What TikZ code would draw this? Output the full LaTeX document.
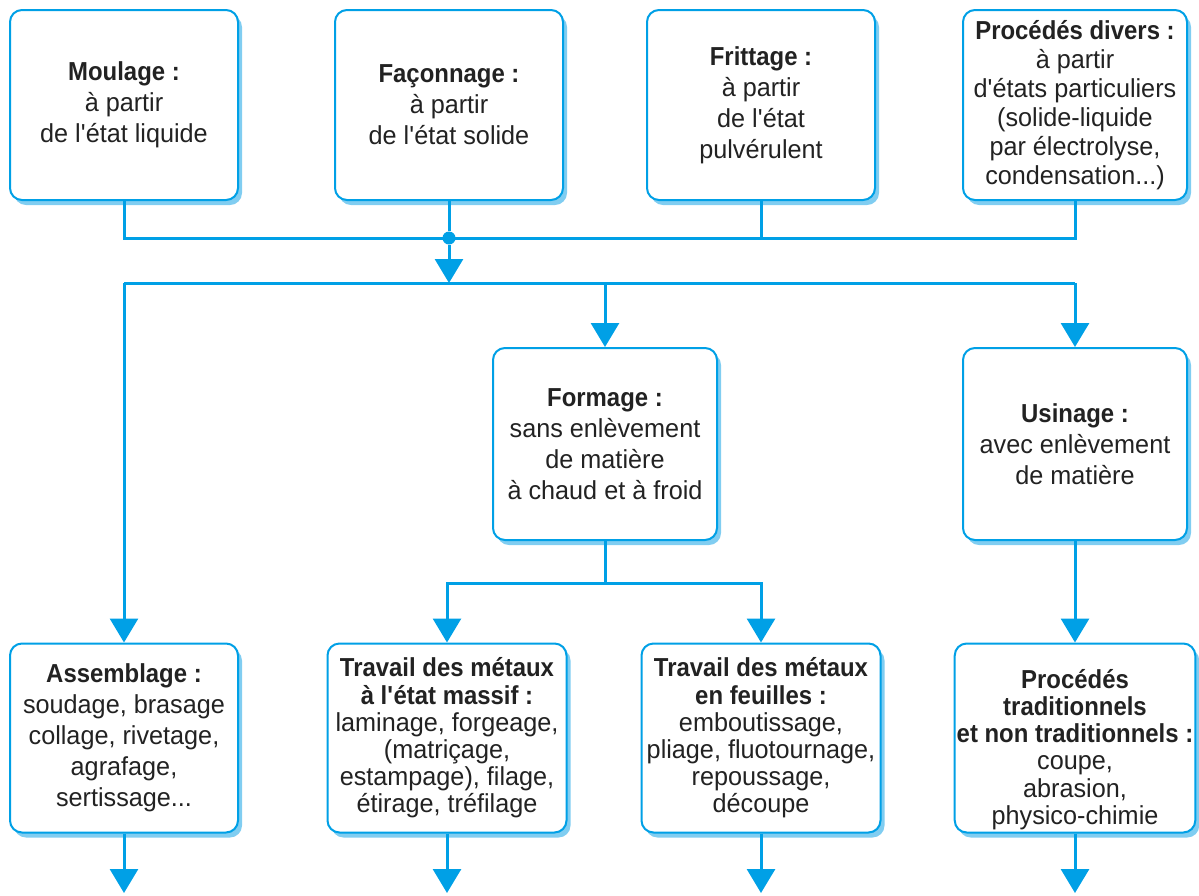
\documentclass[tikz,border=0pt]{standalone}
\usepackage{fontspec}
\setmainfont{Liberation Sans}[FakeStretch=0.97,BoldFeatures={FakeStretch=0.92}]
\usepackage{xcolor}
\usepackage{tikz}
\usetikzlibrary{arrows.meta,shadows}
\definecolor{lineblue}{HTML}{00A0E6}
\definecolor{shadeblue}{HTML}{80CDF1}
\definecolor{inkgray}{HTML}{222222}
\newcommand{\q}{\textquotesingle}
\begin{document}
\begin{tikzpicture}[x=0.5pt,y=-0.5pt]
		\useasboundingbox (0,0) rectangle (1199,895);
		\tikzstyle{box}=[draw=lineblue,line width=1pt,rounded corners=6pt,fill=white,
			drop shadow={shadow xshift=2pt,shadow yshift=-2.5pt,fill=shadeblue,opacity=1},
			align=center,inner sep=1pt,text=inkgray,font=\fontsize{13}{15.5}\selectfont]
		\tikzstyle{tall}=[box,minimum width=114pt,minimum height=95pt]
		\tikzstyle{mid}=[box,minimum width=112pt,minimum height=96pt]
		\tikzstyle{low}=[box,minimum width=119.5pt,minimum height=94.5pt]
		\tikzstyle{dense}=[font=\fontsize{13}{13.6}\selectfont]
		\tikzstyle{link}=[draw=lineblue,line width=1.5pt]
		\tikzstyle{arr}=[link,-{Triangle[width=14pt,length=12pt]}]
		\tikzstyle{dot}=[circle,fill=lineblue,inner sep=0pt,minimum size=6.5pt]
		\node[tall] (moul) at (124,105) {\textbf{Moulage :}\\à partir\\de l\q état liquide};
		\node[tall] (faco) at (449,105) {\textbf{Façonnage :}\\à partir\\de l\q état solide};
		\node[tall] (frit) at (761,105) {\textbf{Frittage :}\\à partir\\de l\q état\\pulvérulent};
		\node[tall,minimum width=112pt,font=\fontsize{13}{14.5}\selectfont] (div) at (1075,105) {\textbf{Procédés divers :}\\à partir\\d\q états particuliers\\(solide-liquide\\par électrolyse,\\condensation...)};
		\node[mid] (form) at (605,444) {\textbf{Formage :}\\sans enlèvement\\de matière\\à chaud et à froid};
		\node[mid] (usin) at (1075,444) {\textbf{Usinage :}\\avec enlèvement\\de matière};
		\node[low,minimum width=114pt] (asm) at (124,738) {\textbf{Assemblage :}\\soudage, brasage\\collage, rivetage,\\agrafage,\\sertissage...};
		\node[low,dense] (mass) at (447,738) {\textbf{Travail des métaux}\\\textbf{à l\q état massif :}\\laminage, forgeage,\\(matriçage,\\estampage), filage,\\étirage, tréfilage};
		\node[low,dense] (feui) at (761,738) {\textbf{Travail des métaux}\\\textbf{en feuilles :}\\emboutissage,\\pliage, fluotournage,\\repoussage,\\découpe};
		\node[low,dense,minimum width=120pt,inner ysep=0pt] (trad) at (1075,738) {\rule{0pt}{21pt}\textbf{Procédés}\\\textbf{traditionnels}\\\textbf{et non traditionnels :}\\coupe,\\abrasion,\\physico-chimie};
		\node[dot] (hub) at (449,238) {};
		\coordinate (bus) at (449,283);
		\coordinate (split) at (605,583);
		\coordinate (foot) at (0,893);
		\draw[link] (moul.south) -- (moul.south |- hub) -- (div.south |- hub) -- (div.south)
			(faco.south) -- (hub)
			(frit.south) -- (frit.south |- hub)
			(asm.north |- bus) -- (usin.north |- bus)
			(form.south) -- (split);
		\draw[arr] (hub) -- (bus);
		\draw[arr] (asm.north |- bus) -- (asm.north);
		\draw[arr] (form.north |- bus) -- (form.north);
		\draw[arr] (usin.north |- bus) -- (usin.north);
		\draw[arr] (split) -| (mass.north);
		\draw[arr] (split) -| (feui.north);
		\draw[arr] (usin.south) -- (trad.north);
		\draw[arr] (asm.south) -- (asm.south |- foot);
		\draw[arr] (mass.south) -- (mass.south |- foot);
		\draw[arr] (feui.south) -- (feui.south |- foot);
		\draw[arr] (trad.south) -- (trad.south |- foot);
		\end{tikzpicture}
\end{document}
